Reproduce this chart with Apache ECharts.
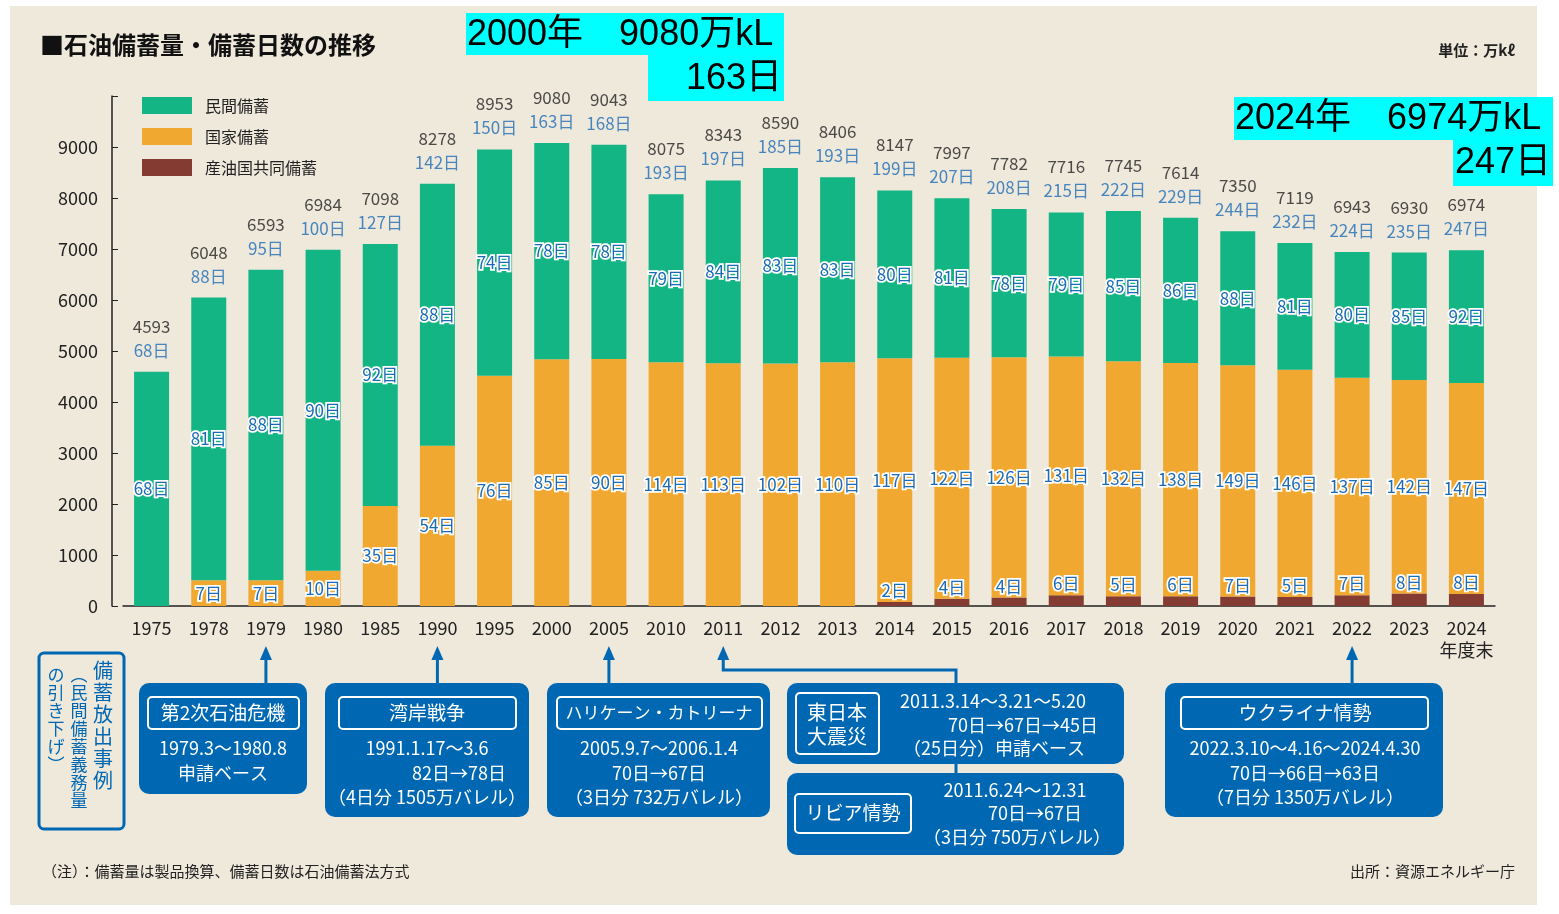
<!DOCTYPE html>
<html>
<head>
<meta charset="utf-8">
<script src="https://cdn.jsdelivr.net/npm/echarts@6/dist/echarts.min.js"></script>
<style>
html,body{margin:0;padding:0;background:#fff;}
#panel{position:absolute;left:10px;top:6px;width:1527px;height:899px;background:#efe9dc;}
#main{position:absolute;left:0;top:0;width:1559px;height:914px;}
</style>
</head>
<body>
<div id="panel"></div>
<div id="main"></div>
<script>
var years = ['1975','1978','1979','1980','1985','1990','1995','2000','2005','2010','2011','2012',
             '2013','2014','2015','2016','2017','2018','2019','2020','2021','2022','2023','2024'];
// 備蓄量 (万kl)
var totals      = [4593,6048,6593,6984,7098,8278,8953,9080,9043,8075,8343,8590,8406,8147,7997,7782,7716,7745,7614,7350,7119,6943,6930,6974];
var privateVol  = [4593,5543,6088,6294,5138,5138,4438,4240,4198,3295,3583,3835,3626,3290,3127,2906,2826,2947,2849,2630,2485,2466,2498,2601];
var nationalVol = [0,505,505,690,1960,3140,4515,4840,4845,4780,4760,4755,4780,4777,4730,4711,4680,4608,4575,4535,4459,4267,4189,4138];
var jointVol    = [0,0,0,0,0,0,0,0,0,0,0,0,0,80,140,165,210,190,190,185,175,210,243,235];
// 備蓄日数
var totalDays    = [68,88,95,100,127,142,150,163,168,193,197,185,193,199,207,208,215,222,229,244,232,224,235,247];
var privateDays  = [68,81,88,90,92,88,74,78,78,79,84,83,83,80,81,78,79,85,86,88,81,80,85,92];
var nationalDays = [null,7,7,10,35,54,76,85,90,114,113,102,110,117,122,126,131,132,138,149,146,137,142,147];
var jointDays    = [null,null,null,null,null,null,null,null,null,null,null,null,null,2,4,4,6,5,6,7,5,7,8,8];

var FONT = '"Noto Sans CJK JP", "Noto Sans", sans-serif';
var GREEN = '#12b583', ORANGE = '#f0a831', RED = '#843b31';
var BLUE = '#0068b3', DAYBLUE = '#1b6cb5';

var chart = echarts.init(document.getElementById('main'));

function dayLabel(arr, pos) {
    return {
        show: true,
        position: pos,
        distance: 3,
        fontSize: 17,
        color: DAYBLUE,
        textBorderColor: '#fff',
        textBorderWidth: 3.5,
        formatter: function (p) {
            var d = arr[p.dataIndex];
            return d == null ? '' : d + '日';
        }
    };
}

var option = {
    animation: false,
    textStyle: { fontFamily: FONT },
    grid: { left: 123, right: 64, top: 96, bottom: 308 },
    legend: {
        data: ['民間備蓄', '国家備蓄', '産油国共同備蓄'],
        orient: 'vertical',
        left: 142, top: 97,
        padding: 0,
        icon: 'rect',
        itemWidth: 50, itemHeight: 17, itemGap: 14,
        textStyle: { fontSize: 16, color: '#222', padding: [0, 0, 0, 8] }
    },
    xAxis: {
        type: 'category',
        data: years,
        axisLine: { lineStyle: { color: '#222', width: 1.5 } },
        axisTick: { show: false },
        axisLabel: {
            interval: 0,
            color: '#222', fontSize: 18, margin: 11, lineHeight: 22,
            formatter: function (v) { return v === '2024' ? '2024\n年度末' : v; }
        }
    },
    yAxis: {
        type: 'value',
        min: 0, max: 10000, interval: 1000,
        offset: 11,
        axisLine: { show: true, lineStyle: { color: '#222', width: 1.5 } },
        axisTick: { show: true, inside: true, length: 6, lineStyle: { color: '#222' } },
        splitLine: { show: false },
        axisLabel: {
            color: '#222', fontSize: 18, margin: 14,
            formatter: function (v) { return v === 10000 ? '' : v; }
        }
    },
    series: [
        { name: '産油国共同備蓄', type: 'bar', stack: 'v', barWidth: 35, data: jointVol,
          itemStyle: { color: RED }, label: dayLabel(jointDays, 'top') },
        { name: '国家備蓄', type: 'bar', stack: 'v', barWidth: 35, data: nationalVol,
          itemStyle: { color: ORANGE }, label: dayLabel(nationalDays, 'inside') },
        { name: '民間備蓄', type: 'bar', stack: 'v', barWidth: 35, data: privateVol,
          itemStyle: { color: GREEN }, label: dayLabel(privateDays, 'inside') },
        { name: '合計', type: 'scatter', data: totals, symbolSize: 1, silent: true,
          itemStyle: { color: 'rgba(0,0,0,0)' },
          label: {
              show: true, position: 'top', distance: 9,
              formatter: function (p) {
                  return '{t|' + totals[p.dataIndex] + '}\n{d|' + totalDays[p.dataIndex] + '日}';
              },
              rich: {
                  t: { fontSize: 17, color: '#222', lineHeight: 24 },
                  d: { fontSize: 17, color: DAYBLUE, lineHeight: 24 }
              }
          } }
    ]
};
chart.setOption(option);

// 注記・吹き出し
function T(x, y, text, size, extra) {
    var st = { x: x, y: y, text: text, fill: '#fff', font: size + 'px ' + FONT,
               textAlign: 'center', textVerticalAlign: 'middle' };
    for (var k in extra) st[k] = extra[k];
    return { type: 'text', z: 20, style: st };
}
function R(x, y, w, h, r, fill, stroke) {
    return { type: 'rect', z: 15, shape: { x: x, y: y, width: w, height: h, r: r },
             style: { fill: fill || 'none', stroke: stroke || null, lineWidth: stroke ? 2 : 0 } };
}
function L(points) {
    return { type: 'polyline', z: 15, shape: { points: points },
             style: { stroke: BLUE, lineWidth: 3, fill: null } };
}
function arrowTo(cat, bottomY, extraPts) {
    var x = chart.convertToPixel({ xAxisIndex: 0 }, cat);
    var pts = [[x, 657], [x, bottomY]];
    if (extraPts) pts = pts.concat(extraPts);
    return [
        { type: 'polygon', z: 16, shape: { points: [[x, 646], [x - 6, 660], [x + 6, 660]] },
          style: { fill: BLUE } },
        L(pts)
    ];
}

var g = [];
g.push(T(40, 45, '■石油備蓄量・備蓄日数の推移', 24, { fill: '#111', textAlign: 'left', font: 'bold 24px ' + FONT }));
g.push(T(1515, 50, '単位：万kℓ', 15, { fill: '#222', textAlign: 'right', font: 'bold 15px ' + FONT }));

// cyan notes
var CF = '"Liberation Sans", "Noto Sans CJK JP", sans-serif';
g.push(R(466, 13, 318, 42, 0, '#00ffff'));
g.push(R(648, 55, 136, 46, 0, '#00ffff'));
g.push(T(467, 35, '2000年　9080万kL', 36, { fill: '#000', textAlign: 'left', font: '36px ' + CF }));
g.push(T(782, 79, '163日', 36, { fill: '#000', textAlign: 'right', font: '36px ' + CF }));
g.push(R(1234, 97, 319, 43, 0, '#00ffff'));
g.push(R(1453, 140, 100, 46, 0, '#00ffff'));
g.push(T(1235, 119, '2024年　6974万kL', 36, { fill: '#000', textAlign: 'left', font: '36px ' + CF }));
g.push(T(1551, 163, '247日', 36, { fill: '#000', textAlign: 'right', font: '36px ' + CF }));

// arrows
g = g.concat(arrowTo('1979', 683));
g = g.concat(arrowTo('1990', 683));
g = g.concat(arrowTo('2005', 683));
g = g.concat(arrowTo('2022', 683));
g = g.concat(arrowTo('2011', 670, [[956, 670], [956, 683]]));
g.push(L([[956, 762], [956, 775]]));

// vertical caption box
g.push({ type: 'rect', z: 15, shape: { x: 39, y: 653, width: 85, height: 176, r: 5 },
         style: { fill: 'none', stroke: BLUE, lineWidth: 3 } });
g.push(T(103, 659, '備\n蓄\n放\n出\n事\n例', 20, { fill: BLUE, textVerticalAlign: 'top', lineHeight: 22 }));
g.push(T(79, 666, '︵\n民\n間\n備\n蓄\n義\n務\n量', 17, { fill: BLUE, textVerticalAlign: 'top', lineHeight: 18 }));
g.push(T(56, 666, 'の\n引\nき\n下\nげ\n︶', 17, { fill: BLUE, textVerticalAlign: 'top', lineHeight: 18 }));

// box 1
g.push(R(139, 683, 168, 111, 10, BLUE));
g.push(R(148, 697, 151, 32, 4, null, '#fff'));
g.push(T(223, 713, '第2次石油危機', 19));
g.push(T(223, 748, '1979.3～1980.8', 18));
g.push(T(223, 773, '申請ベース', 18));
// box 2
g.push(R(325, 683, 204, 134, 10, BLUE));
g.push(R(339, 697, 177, 32, 4, null, '#fff'));
g.push(T(427, 713, '湾岸戦争', 19));
g.push(T(427, 748, '1991.1.17～3.6', 18));
g.push(T(459, 773, '82日→78日', 18));
g.push(T(427, 797, '（4日分 1505万バレル）', 18));
// box 3
g.push(R(547, 683, 223, 134, 10, BLUE));
g.push(R(557, 697, 205, 32, 4, null, '#fff'));
g.push(T(659, 713, 'ハリケーン・カトリーナ', 17));
g.push(T(659, 748, '2005.9.7～2006.1.4', 18));
g.push(T(659, 773, '70日→67日', 18));
g.push(T(659, 797, '（3日分 732万バレル）', 18));
// box 4
g.push(R(787, 683, 337, 81, 10, BLUE));
g.push(R(796, 693, 83, 61, 4, null, '#fff'));
g.push(T(837, 724, '東日本\n大震災', 20, { lineHeight: 24 }));
g.push(T(993, 701, '2011.3.14～3.21～5.20', 18));
g.push(T(1098, 725, '70日→67日→45日', 18, { textAlign: 'right' }));
g.push(T(994, 748, '（25日分）申請ベース', 18));
// box 5
g.push(R(787, 773, 337, 82, 10, BLUE));
g.push(R(795, 794, 116, 39, 4, null, '#fff'));
g.push(T(853, 813, 'リビア情勢', 19));
g.push(T(1015, 790, '2011.6.24～12.31', 18));
g.push(T(1035, 813, '70日→67日', 18));
g.push(T(1017, 837, '（3日分 750万バレル）', 18));
// box 6
g.push(R(1165, 683, 278, 134, 10, BLUE));
g.push(R(1181, 697, 247, 32, 4, null, '#fff'));
g.push(T(1305, 713, 'ウクライナ情勢', 19));
g.push(T(1305, 748, '2022.3.10～4.16～2024.4.30', 18));
g.push(T(1305, 773, '70日→66日→63日', 18));
g.push(T(1305, 797, '（7日分 1350万バレル）', 18));

// footnotes
g.push(T(42, 871, '（注）：備蓄量は製品換算、備蓄日数は石油備蓄法方式', 15, { fill: '#222', textAlign: 'left' }));
g.push(T(1515, 871, '出所：資源エネルギー庁', 15, { fill: '#222', textAlign: 'right' }));

chart.setOption({ graphic: g });
</script>
</body>
</html>
